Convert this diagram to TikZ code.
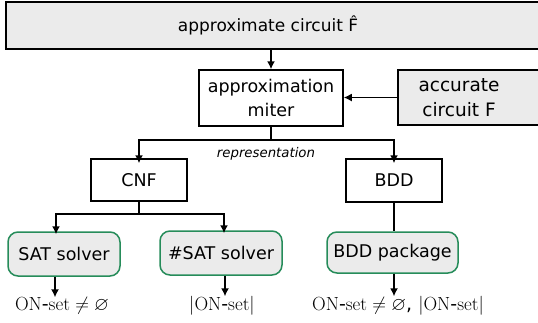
\RequirePackage{fix-cm}
\documentclass[tikz,border=0pt]{standalone}
\usepackage{amsmath,amssymb}
\usepackage{fontspec}
\newfontfamily\dejavu{DejaVu Sans}
\usepackage{tikz}
\usetikzlibrary{arrows.meta,positioning,calc}

\definecolor{boxgray}{RGB}{235,235,235}
\definecolor{solvergreen}{RGB}{38,140,90}

\begin{document}
\begin{tikzpicture}[x=1pt, y=-1pt,
    font=\dejavu\fontsize{17.5}{24}\selectfont,
    box/.style={draw, line width=1.5pt, inner sep=0pt},
    graybox/.style={box, fill=boxgray},
    solver/.style={draw=solvergreen, line width=1.5pt, fill=boxgray, rounded corners=10pt, inner sep=0pt, minimum height=44pt},
    arr/.style={-{Latex[length=8pt,width=8pt]}, line width=1.5pt},
    result/.style={font=\dejavu\fontsize{19}{22}\selectfont, inner sep=0pt}]
    \useasboundingbox (0,0) rectangle (538,322);

    % Circuits
    \node[graybox, minimum width=534pt, minimum height=47pt] (approx) at (273,25.5) {};
    \node[font=\dejavu\fontsize{17}{20}\selectfont] at (268,25.5) {approximate circuit \^{F}};
    \node[graybox, minimum width=150pt, minimum height=55pt] (accurate) at (473,97.5) {};
    \node[align=center, font=\dejavu\fontsize{18.5}{25}\selectfont] at (459,98) {accurate\\circuit F};

    % Miter
    \node[box, minimum width=144pt, minimum height=56pt, align=center] (miter) at (271,98) {approximation\\miter};
    \draw[arr] (approx.south -| miter.north) -- (miter.north);
    \draw[arr] (accurate.west) -- (accurate.west -| miter.east);

    % Representation
    \node[box, minimum width=96pt, minimum height=42pt] (cnf) at (139,180) {CNF};
    \node[box, minimum width=96pt, minimum height=43pt] (bdd) at (394,180.5) {BDD};
    \draw[line width=1.5pt] (miter.south) -- ++(0,13) coordinate (split);
    \draw[arr] (split) -| ([yshift=-5pt]cnf.north);
    \draw[arr] (split) -| ([yshift=-5pt]bdd.north);
    \node[font=\dejavu\fontsize{13.3}{16}\selectfont\itshape] (repr) at (266,154) {representation};

    % Solvers
    \node[solver, minimum width=112pt] (sat) at (64,254) {SAT solver};
    \node[solver, minimum width=122pt] (sharpsat) at (221,253) {\#SAT solver};
    \node[solver, minimum width=131pt, minimum height=41pt] (bddpkg) at (392.5,252.5) {BDD package};
    \draw[line width=1.5pt] (cnf.south) -- ++(0,12) coordinate (cnfsplit);
    \draw[arr] (cnfsplit) -| ([shift={(-8pt,-3pt)}]sat.north);
    \draw[arr] (cnfsplit) -| ([shift={(3pt,-3pt)}]sharpsat.north);
    \draw[line width=1.5pt] (bdd.south) -- (bdd.south |- bddpkg.north);

    % Results
    \node[result] (satres) at (62,306) {$\mathrm{ON}\text{-}\mathrm{set}\neq\varnothing$};
    \node[result] (sharpres) at (222,306) {$|\mathrm{ON}\text{-}\mathrm{set}|$};
    \node[result] (bddres) at (398,306) {$\mathrm{ON}\text{-}\mathrm{set}\neq\varnothing$, $|\mathrm{ON}\text{-}\mathrm{set}|$};
    \draw[arr] ([xshift=-9pt]sat.south) -- ([xshift=-9pt]sat.south |- satres.north);
    \draw[arr] ([xshift=4pt]sharpsat.south) -- ([xshift=4pt]sharpsat.south |- sharpres.north);
    \draw[arr] ([xshift=1.5pt]bddpkg.south) -- ([xshift=1.5pt]bddpkg.south |- bddres.north);
\end{tikzpicture}
\end{document}
